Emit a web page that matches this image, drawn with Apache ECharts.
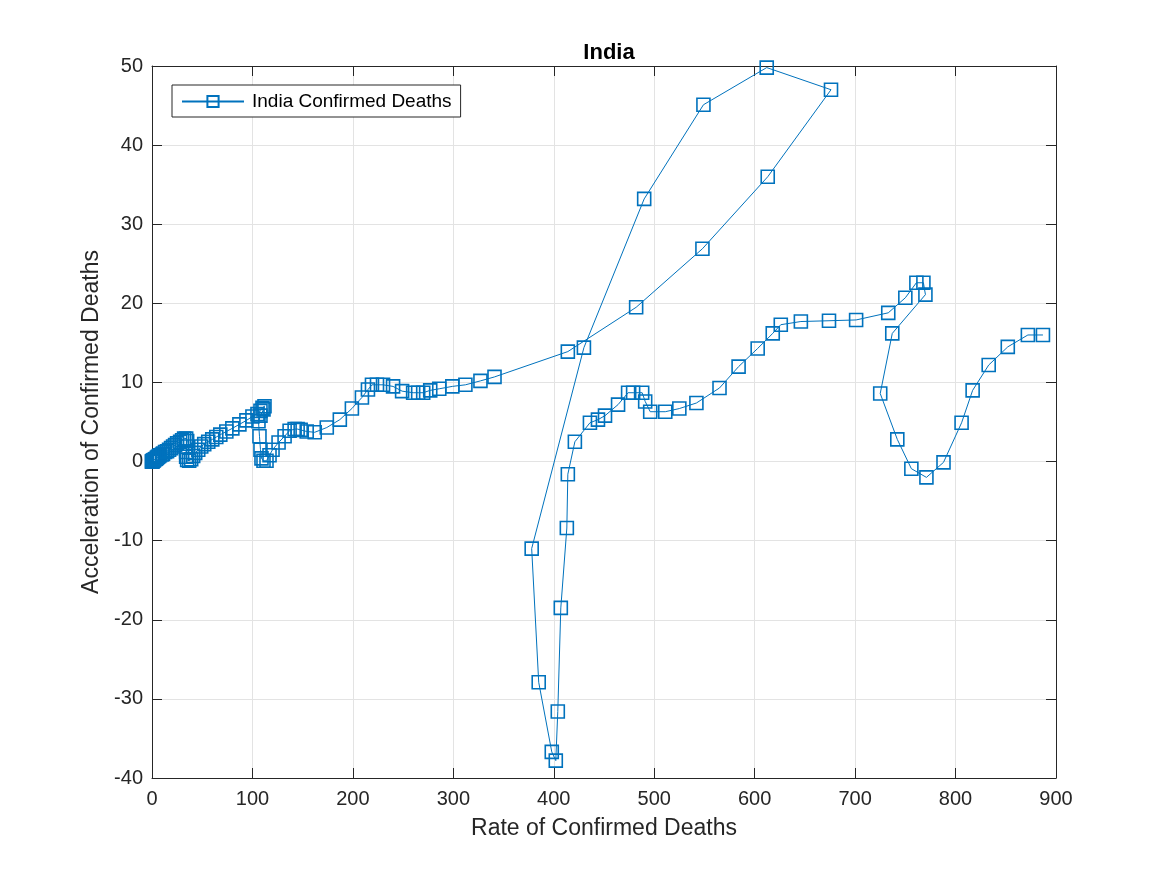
<!DOCTYPE html>
<html>
<head>
<meta charset="utf-8">
<script src="https://cdn.jsdelivr.net/npm/echarts@6/dist/echarts.min.js"></script>
<style>html,body{margin:0;padding:0;background:#fff;}#c{width:1167px;height:875px;}</style>
</head>
<body>
<div id="c"></div>
<script>
// Rate of Confirmed Deaths (x) and Acceleration of Confirmed Deaths (y), in path order
const rateValues = [0,0,0.3,0.5,1,1.5,2,3,4,5,6,7,8,10,11,13,15,17,19,21,23,25,28,30,32,34,35,34,34,34,35,37,39,41,43,46,49,52,56,60,64,68,74,80,87,94,100,105,108,110,112,111,108,106,107,108,109,111,114,117,120,126,132,137,142,145,148,154,162,174,187,199,209,215,219,224,230,240,249,260,265,270,277,286,299,312,327,341,414,482,548,613,676,612,549,490,430,378,385,398,402,404,407,413,414,421,436,444,451,464,474,479,488,491,496,511,525,542,565,584,603,618,626,646,674,701,733,750,761,768,770,737,725,742,756,771,788,806,817,833,852,872,887];
const accelValues = [0,0,0,0.05,0.1,0.15,0.2,0.3,0.35,0.5,0.6,0.7,0.8,0.9,1.0,1.2,1.3,1.5,1.7,1.9,2.1,2.3,2.5,2.7,2.9,2.9,2.6,1.9,1.2,0.6,0.2,0.1,0.3,0.7,1.1,1.5,1.9,2.2,2.5,2.8,3.1,3.4,3.8,4.2,4.7,5.2,5.7,6.0,6.4,6.8,7.0,6.6,5.8,5.1,3.2,1.5,0.4,0.1,0.1,0.8,1.5,2.4,3.2,3.9,4.1,4.1,4.0,3.8,3.7,4.3,5.3,6.7,8.1,9.1,9.7,9.7,9.7,9.5,8.9,8.7,8.7,8.7,9.0,9.2,9.5,9.7,10.2,10.7,13.9,19.5,26.9,36.0,47.0,49.8,45.1,33.2,14.4,-11.0,-27.9,-36.7,-37.8,-31.6,-18.5,-8.4,-1.6,2.5,4.9,5.3,5.8,7.2,8.7,8.7,8.7,7.6,6.3,6.3,6.7,7.4,9.3,12.0,14.3,16.2,17.3,17.7,17.8,17.9,18.8,20.7,22.6,22.6,21.1,16.2,8.6,2.8,-0.9,-2.0,-0.1,4.9,9.0,12.2,14.5,16.0,16.0];
const xTicks = [0,100,200,300,400,500,600,700,800,900];
const yTicks = [-40,-30,-20,-10,0,10,20,30,40,50];
const seriesName = 'India Confirmed Deaths';

const points = rateValues.map((x, i) => [x, accelValues[i]]);
const blue = '#0072BD';
const dark = '#262626';
const font = 'Liberation Sans, Arial, Helvetica, sans-serif';

const chart = echarts.init(document.getElementById('c'), null, {renderer: 'canvas'});
const baseAxis = {
  axisLine: {show: true, onZero: false, lineStyle: {color: dark, width: 1}},
  axisTick: {show: true, inside: true, length: 10, lineStyle: {color: dark, width: 1}},
  splitLine: {show: false},
  axisLabel: {show: false}
};
chart.setOption({
  backgroundColor: '#fff',
  animation: false,
  title: {
    text: 'India', left: 604, top: 37, textAlign: 'center',
    textStyle: {fontFamily: font, fontSize: 22, fontWeight: 'bold', color: '#000'}
  },
  legend: {
    left: 172, top: 85, orient: 'vertical',
    backgroundColor: '#fff', borderColor: dark, borderWidth: 1, borderRadius: 0,
    padding: [7, 9, 6, 9], itemWidth: 62, itemHeight: 14, itemGap: 0,
    textStyle: {fontFamily: font, fontSize: 19, color: '#000', padding: [0, 0, 0, 3]},
    data: [seriesName]
  },
  grid: {left: 152, right: 111, top: 66, bottom: 97, containLabel: false},
  xAxis: [
    Object.assign({}, baseAxis, {
      type: 'value', min: 0, max: 900, interval: 100, position: 'bottom',
      splitLine: {show: true, lineStyle: {color: '#e3e3e3', width: 1}},
      axisLabel: {show: true, color: dark, fontFamily: font, fontSize: 20, margin: 11,
        formatter: v => xTicks.includes(v) ? String(v) : ''},
      name: 'Rate of Confirmed Deaths', nameLocation: 'middle', nameGap: 39,
      nameTextStyle: {fontFamily: font, fontSize: 23, color: dark}
    }),
    Object.assign({}, baseAxis, {type: 'value', min: 0, max: 900, interval: 100, position: 'top'})
  ],
  yAxis: [
    Object.assign({}, baseAxis, {
      type: 'value', min: -40, max: 50, interval: 10, position: 'left',
      splitLine: {show: true, lineStyle: {color: '#e3e3e3', width: 1}},
      axisLabel: {show: true, color: dark, fontFamily: font, fontSize: 20, margin: 9,
        formatter: v => yTicks.includes(v) ? String(v) : ''},
      name: 'Acceleration of Confirmed Deaths', nameLocation: 'middle', nameGap: 46,
      nameTextStyle: {fontFamily: font, fontSize: 23, color: dark}
    }),
    Object.assign({}, baseAxis, {type: 'value', min: -40, max: 50, interval: 10, position: 'right'})
  ],
  series: [{
    name: seriesName,
    type: 'line',
    data: points,
    xAxisIndex: 0, yAxisIndex: 0,
    symbol: 'rect', symbolSize: 13, showAllSymbol: true,
    lineStyle: {color: blue, width: 1},
    itemStyle: {color: 'rgba(0,0,0,0)', borderColor: blue, borderWidth: 1.6},
    emphasis: {disabled: true}
  }]
});
</script>
</body>
</html>
